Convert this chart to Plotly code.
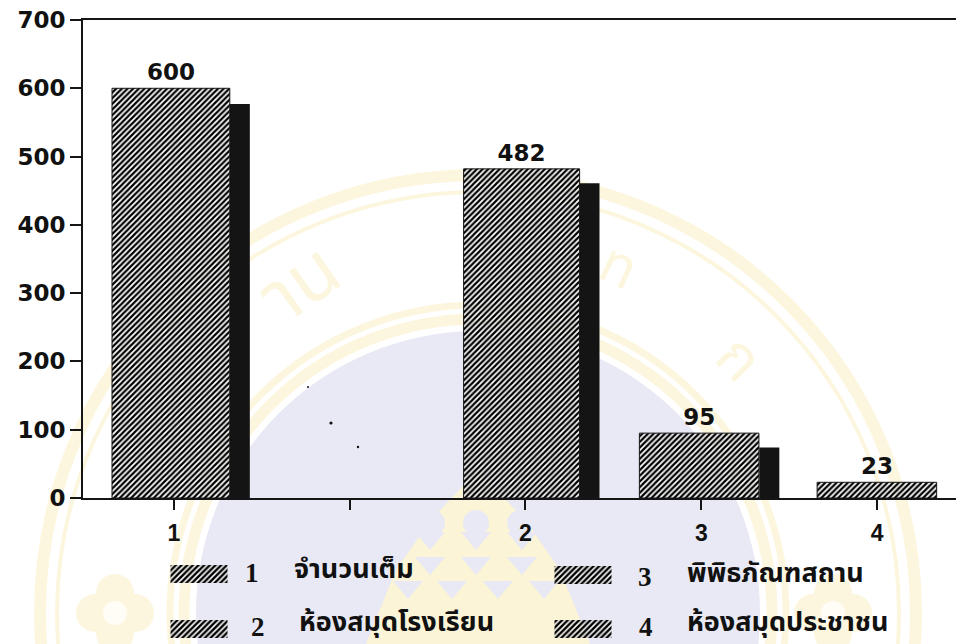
import plotly.graph_objects as go

categories = ["1", " ", "2", "3", "4"]
values = [600, None, 482, 95, 23]
shadow_values = [577, None, 461, 74, None]
value_labels = ["600", "", "482", "95", "23"]
y_ticks = [0, 100, 200, 300, 400, 500, 600, 700]
legend_numbers = ["1", "2", "3", "4"]
legend_names = ["จำนวนเต็ม", "ห้องสมุดโรงเรียน", "พิพิธภัณฑสถาน", "ห้องสมุดประชาชน"]
seal_letters = ["าน", "ท", "ก"]

W, H = 956, 644
PALE = "#FDF6DE"
LAV = "#E8E9F4"


def px(x):
    return x / W


def py(y):
    return 1 - y / H


def circle(cx, cy, r, fill=None, line=None, lw=0):
    return dict(type="circle", xref="paper", yref="paper", layer="below",
                x0=px(cx - r), x1=px(cx + r), y0=py(cy + r), y1=py(cy - r),
                fillcolor=fill or "rgba(0,0,0,0)",
                line=dict(color=line or "rgba(0,0,0,0)", width=lw))


def poly(points, fill):
    d = "M" + " L".join(f"{px(x):.4f},{py(y):.4f}" for x, y in points) + " Z"
    return dict(type="path", path=d, xref="paper", yref="paper", layer="below",
                fillcolor=fill, line=dict(width=0))


shapes = [
    circle(478, 613, 438, line=PALE, lw=12),
    circle(478, 613, 421, line=PALE, lw=4),
    circle(478, 613, 308, line=PALE, lw=7),
    circle(478, 613, 294, line=PALE, lw=11),
    circle(478, 613, 282, fill=LAV),
]
# crest in the middle of the seal
shapes.append(poly([(478, 470), (525, 520), (560, 570), (590, 644), (366, 644), (396, 570), (431, 520)], "#FBF4D6"))
for ox in (432, 476, 520):
    shapes.append(circle(ox, 523, 13, fill=LAV))
for row_y, xs in ((541, (430, 476, 522)), (566, (385, 430, 476, 522, 567)), (590, (365, 408, 452, 498, 544, 590))):
    for tx in xs:
        shapes.append(poly([(tx - 15, row_y - 9), (tx + 15, row_y - 9), (tx, row_y + 9)], LAV))
# flowers left and right
for fx in (115, 833):
    for dx, dy in ((-20, 0), (20, 0), (0, -20), (0, 20)):
        shapes.append(circle(fx + dx, 613 + dy, 19, fill=PALE))
    shapes.append(circle(fx, 613, 12, fill="#FFFDF6"))
# scan specks
for sx, sy, sr in ((308, 387, 1), (331, 423, 1.6), (358, 447, 1.2)):
    shapes.append(circle(sx, sy, sr, fill="#111111"))

hatch = dict(shape="/", size=4, solidity=0.55, fgcolor="#000000", bgcolor="rgba(255,255,255,0.8)")

fig = go.Figure()
fig.add_trace(go.Bar(
    x=categories, y=shadow_values, width=[0.114] * 5,
    offset=[0.318, 0, 0.307, 0.33, 0.341],
    marker=dict(color="#141414", line=dict(width=0)), showlegend=False, hoverinfo="skip"))
fig.add_trace(go.Bar(
    x=categories, y=values, text=value_labels, textposition="outside", cliponaxis=False,
    textfont=dict(family="DejaVu Sans", size=23, color="#111111", weight="bold"),
    width=[0.67, 0.67, 0.66, 0.68, 0.68], offset=[-0.352, -0.34, -0.352, -0.352, -0.341],
    marker=dict(color="rgba(255,255,255,0.8)", pattern=hatch, line=dict(color="#151515", width=1)),
    showlegend=False))

# legend swatches, on a hidden pixel-scaled axis pair
swatch_cols = [199, 199, 583, 583]
swatch_rows = [565, 620, 566, 620]
for sx, sy, name in zip(swatch_cols, swatch_rows, legend_names):
    fig.add_trace(go.Bar(
        x=[sx], y=[18], base=[sy], width=[57], xaxis="x2", yaxis="y2", name=name,
        marker=dict(color="rgba(255,255,255,0.7)", pattern=dict(shape="/", size=4, solidity=0.6, fgcolor="#000000", bgcolor="rgba(255,255,255,0.7)"), line=dict(width=0)),
        showlegend=False, hoverinfo="skip"))

annotations = []
thai_font = dict(family="Noto Sans Thai, Noto Sans, Liberation Serif, sans-serif", size=27, color="#111111")
num_font = dict(family="Liberation Serif", size=27, color="#111111", weight="bold")
num_xy = [(252, 573), (258, 627), (645, 577), (646, 627)]
name_xy = [(292, 569), (297, 622), (685, 573), (685, 622)]
for num, (nx, ny), name, (tx, ty) in zip(legend_numbers, num_xy, legend_names, name_xy):
    annotations.append(dict(text=num, x=px(nx), y=py(ny), xref="paper", yref="paper", xanchor="center", yanchor="middle",
                            showarrow=False, font=num_font))
    annotations.append(dict(text="<b>" + name + "</b>", x=px(tx), y=py(ty), xref="paper", yref="paper",
                            xanchor="left", yanchor="middle", showarrow=False, font=thai_font))
letter_spots = [(300, 285, -35, 76), (618, 268, 25, 56), (738, 360, 45, 60)]
for letter, (lx, ly, rot, size) in zip(seal_letters, letter_spots):
    annotations.append(dict(text=letter, x=px(lx), y=py(ly), xref="paper", yref="paper", xanchor="center", yanchor="middle",
                            textangle=rot, showarrow=False,
                            font=dict(family="Noto Sans Thai, Noto Sans, sans-serif", size=size, color=PALE)))

fig.update_layout(
    template="none",
    width=W, height=H, autosize=False, margin=dict(l=0, r=0, t=0, b=0, pad=0),
    paper_bgcolor="white", plot_bgcolor="rgba(0,0,0,0)",
    barmode="overlay", showlegend=False, shapes=shapes, annotations=annotations,
    xaxis=dict(domain=[px(83), 1], type="category", categoryorder="array", categoryarray=categories,
               range=[-0.517, 4.449], showgrid=False, zeroline=False, showline=True, mirror=True, automargin=False,
               linecolor="#151515", linewidth=2, ticks="outside", ticklen=10, tickwidth=1.5,
               tickcolor="#151515", ticklabelstandoff=3,
               tickfont=dict(family="Liberation Sans", size=23, color="#111111", weight="bold")),
    yaxis=dict(domain=[py(498), py(20)], range=[0, 700], tickvals=y_ticks, showgrid=False, zeroline=False,
               showline=True, automargin=False, linecolor="#151515", linewidth=2, ticks="outside", ticklen=11, tickwidth=2,
               tickcolor="#151515",
               tickfont=dict(family="DejaVu Sans", size=23, color="#111111", weight="bold")),
    xaxis2=dict(domain=[0, 1], range=[0, W], visible=False, anchor="y2", fixedrange=True, automargin=False),
    yaxis2=dict(domain=[0, 1], range=[H, 0], visible=False, anchor="x2", fixedrange=True, automargin=False),
)

fig.write_html("out.html", config={"displayModeBar": False}, post_script="document.body.style.margin='0';")
